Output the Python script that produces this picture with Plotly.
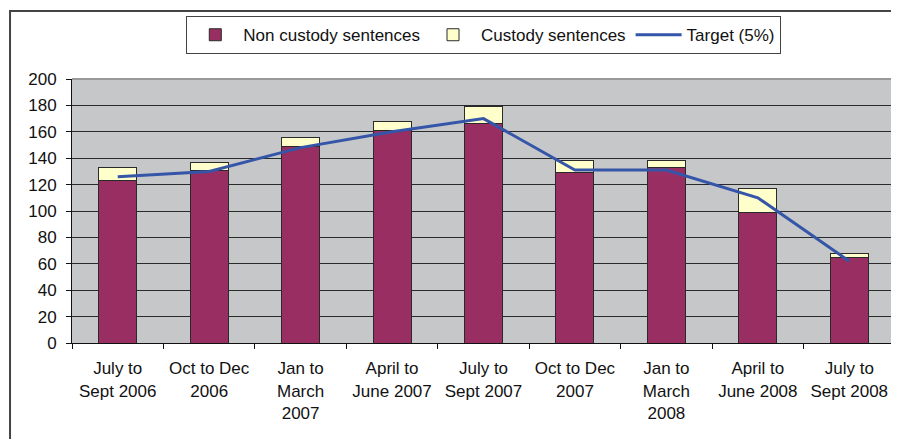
import plotly.graph_objects as go

categories = ["July to<br>Sept 2006", "Oct to Dec<br>2006", "Jan to<br>March<br>2007",
              "April to<br>June 2007", "July to<br>Sept 2007", "Oct to Dec<br>2007",
              "Jan to<br>March<br>2008", "April to<br>June 2008", "July to<br>Sept 2008"]
non_custody = [123, 131, 149, 161, 166, 129, 133, 99, 65]
custody = [10, 6, 7, 7, 13, 9, 5, 18, 3]
target = [126, 130, 148, 160, 170, 131, 131, 110, 62]
y_ticks = [0, 20, 40, 60, 80, 100, 120, 140, 160, 180, 200]

FONT = "Liberation Sans, Arial, sans-serif"

fig = go.Figure()
fig.add_trace(go.Bar(x=categories, y=non_custody, name="Non custody sentences",
                     marker=dict(color="#992E62", line=dict(color="#2a2a2a", width=1))))
fig.add_trace(go.Bar(x=categories, y=custody, name="Custody sentences",
                     marker=dict(color="#FFFFCC", line=dict(color="#2a2a2a", width=1))))
fig.add_trace(go.Scatter(x=categories, y=target, name="Target (5%)", mode="lines",
                         line=dict(color="#3556A8", width=3)))

fig.update_layout(
    width=891, height=431,
    margin=dict(l=64, r=4, t=71, b=96, autoexpand=False),
    paper_bgcolor="white",
    plot_bgcolor="#C6C7C9",
    barmode="stack",
    bargap=0.585,
    font=dict(family=FONT, size=17, color="#111"),
    showlegend=True,
    legend=dict(orientation="h", xref="container", yref="container",
                x=0.534, xanchor="center", y=0.981, yanchor="top",
                bordercolor="#444", borderwidth=1, bgcolor="white",
                traceorder="normal", font=dict(size=17), itemwidth=46,
                tracegroupgap=0),
    xaxis=dict(showgrid=False, showline=True, linecolor="#111", linewidth=1,
               ticks="outside", tickson="boundaries", ticklen=5, tickcolor="#111",
               ticklabelstandoff=10, tickfont=dict(size=17), automargin=False),
    yaxis=dict(range=[0, 200], tickvals=y_ticks, showgrid=True, gridcolor="#2a2a2a",
               gridwidth=1, showline=True, linecolor="#111", linewidth=1,
               ticks="outside", ticklen=5, tickcolor="#111", zeroline=False,
               ticklabelstandoff=6, tickfont=dict(size=17), automargin=False),
    shapes=[
        dict(type="line", xref="paper", yref="paper", x0=0, x1=1, y0=1, y1=1,
             line=dict(color="#999", width=2)),
        dict(type="line", xref="paper", yref="paper", x0=1, x1=1, y0=0, y1=1,
             line=dict(color="#999", width=2)),
        dict(type="rect", xref="paper", yref="paper", x0=-0.0753, x1=1.2, y0=-0.5, y1=1.2576,
             line=dict(color="#444", width=2), layer="above"),
    ],
)

fig.write_html("out.html")
